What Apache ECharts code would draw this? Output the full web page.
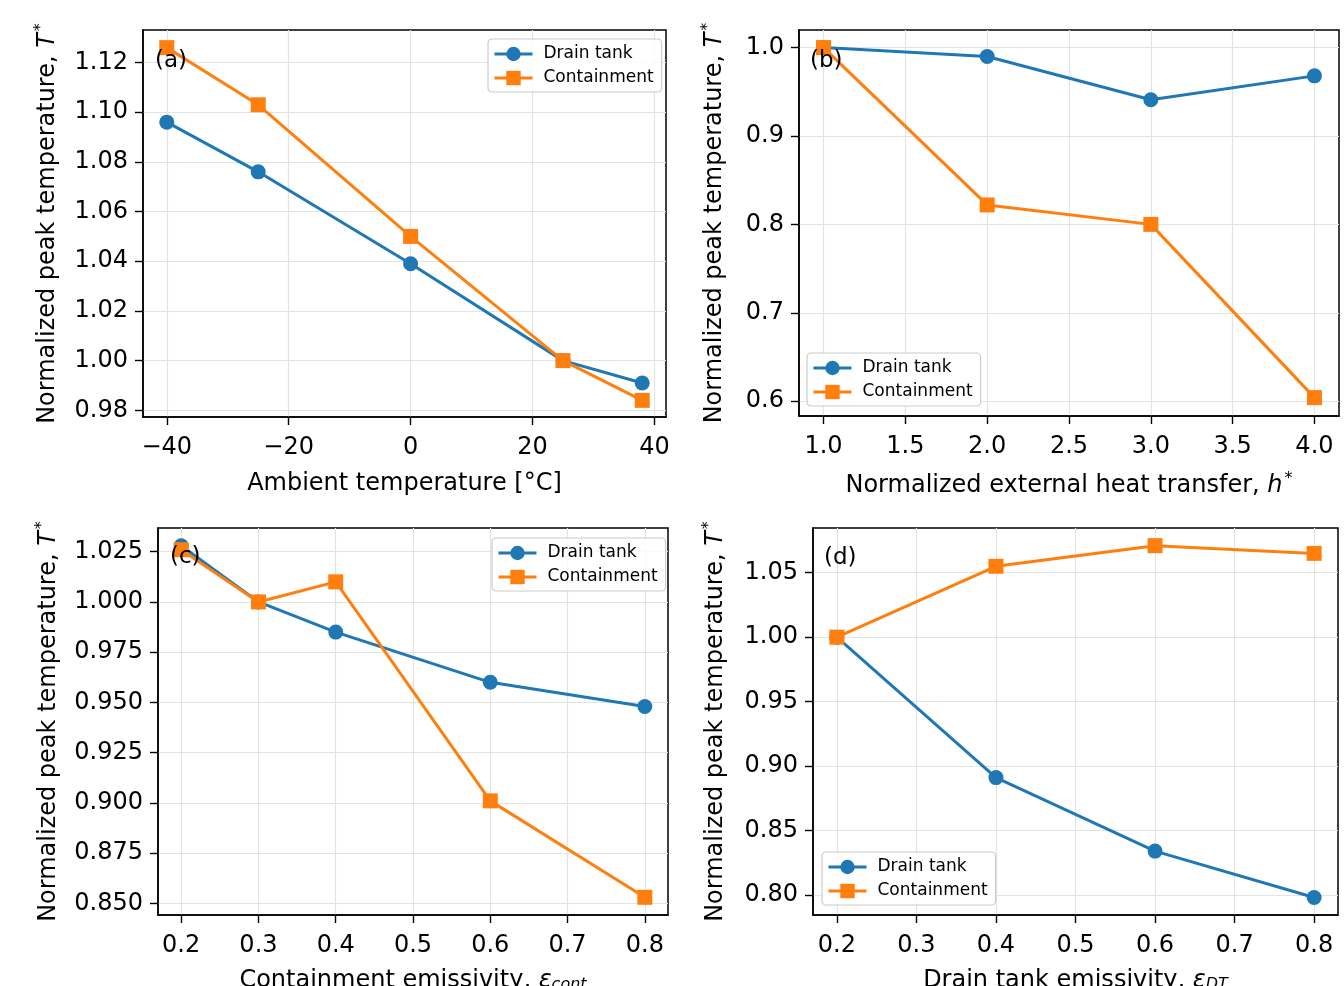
<!DOCTYPE html>
<html>
<head>
<meta charset="utf-8">
<script src="https://cdn.jsdelivr.net/npm/echarts@6/dist/echarts.min.js"></script>
<style>
  html, body { margin: 0; padding: 0; background: #fff; }
  #main { width: 1344px; height: 986px; }
</style>
</head>
<body>
<div id="main"></div>
<script>
// (a) ambient temperature sweep
var ambientTemp = [-40, -25, 0, 25, 38];
var drainA = [1.096, 1.076, 1.039, 1.000, 0.991];
var contA = [1.126, 1.103, 1.050, 1.000, 0.984];
// (b) external heat transfer sweep
var heatTransfer = [1.0, 2.0, 3.0, 4.0];
var drainB = [1.000, 0.990, 0.941, 0.968];
var contB = [1.000, 0.822, 0.800, 0.604];
// (c) containment emissivity sweep
var contEmiss = [0.2, 0.3, 0.4, 0.6, 0.8];
var drainC = [1.028, 1.000, 0.985, 0.960, 0.948];
var contC = [1.026, 1.000, 1.010, 0.901, 0.853];
// (d) drain tank emissivity sweep
var dtEmiss = [0.2, 0.4, 0.6, 0.8];
var drainD = [1.000, 0.891, 0.834, 0.798];
var contD = [1.000, 1.055, 1.071, 1.065];

// tick labels
var xTicksA = [-40, -20, 0, 20, 40];
var yTicksA = [0.98, 1.00, 1.02, 1.04, 1.06, 1.08, 1.10, 1.12];
var xTicksB = [1.0, 1.5, 2.0, 2.5, 3.0, 3.5, 4.0];
var yTicksB = [0.6, 0.7, 0.8, 0.9, 1.0];
var xTicksC = [0.2, 0.3, 0.4, 0.5, 0.6, 0.7, 0.8];
var yTicksC = [0.850, 0.875, 0.900, 0.925, 0.950, 0.975, 1.000, 1.025];
var xTicksD = [0.2, 0.3, 0.4, 0.5, 0.6, 0.7, 0.8];
var yTicksD = [0.80, 0.85, 0.90, 0.95, 1.00, 1.05];

var FONT = 'DejaVu Sans';
var BLUE = '#1f77b4';
var ORANGE = '#ff7f0e';

var chart = echarts.init(document.getElementById('main'));

var rich = {
    i: { fontFamily: FONT, fontSize: 24, fontStyle: 'italic', color: '#000' },
    sup: { fontFamily: FONT, fontSize: 16, color: '#000', padding: [0, 0, 14, 2] },
    sub: { fontFamily: FONT, fontSize: 16, fontStyle: 'italic', color: '#000', padding: [8, 0, 0, 0] }
};

function fmt(digits) {
    return function (v) {
        var s = Math.abs(v).toFixed(digits);
        return v < -1e-9 ? '\u2212' + s : s;
    };
}

function xAxis(idx, min, max, ticks, digits, name, gap) {
    return {
        type: 'value', gridIndex: idx, min: min, max: max,
        name: name, nameLocation: 'middle', nameGap: gap,
        nameTextStyle: { fontFamily: FONT, fontSize: 24, color: '#000', rich: rich },
        axisLine: { show: true, onZero: false, lineStyle: { color: '#000', width: 1.5 } },
        axisTick: { show: true, length: 8, customValues: ticks, lineStyle: { color: '#000', width: 1.4 } },
        axisLabel: { customValues: ticks, formatter: fmt(digits), margin: 19,
            fontFamily: FONT, fontSize: 24, color: '#000' },
        splitLine: { show: true, lineStyle: { color: '#e3e3e3', width: 1.2 } }
    };
}

function yAxis(idx, min, max, ticks, digits, gap) {
    return {
        type: 'value', gridIndex: idx, min: min, max: max,
        name: 'Normalized peak temperature, {i|T}{sup|*}', nameLocation: 'middle', nameGap: gap,
        nameTextStyle: { fontFamily: FONT, fontSize: 24, color: '#000', rich: rich },
        axisLine: { show: true, onZero: false, lineStyle: { color: '#000', width: 1.5 } },
        axisTick: { show: true, length: 8, customValues: ticks, lineStyle: { color: '#000', width: 1.4 } },
        axisLabel: { customValues: ticks, formatter: fmt(digits), margin: 15,
            fontFamily: FONT, fontSize: 24, color: '#000' },
        splitLine: { show: true, lineStyle: { color: '#e3e3e3', width: 1.2 } }
    };
}

function pairs(xs, ys) {
    return xs.map(function (x, i) { return [x, ys[i]]; });
}

function lines(idx, xs, drain, cont) {
    return [
        { name: 'Drain tank', type: 'line', xAxisIndex: idx, yAxisIndex: idx,
          data: pairs(xs, drain), symbol: 'circle', symbolSize: 15,
          lineStyle: { color: BLUE, width: 3 }, itemStyle: { color: BLUE },
          animation: false },
        { name: 'Containment', type: 'line', xAxisIndex: idx, yAxisIndex: idx,
          data: pairs(xs, cont), symbol: 'rect', symbolSize: 15,
          lineStyle: { color: ORANGE, width: 3 }, itemStyle: { color: ORANGE },
          animation: false }
    ];
}

function legend(left, top) {
    return {
        data: ['Drain tank', 'Containment'], orient: 'vertical',
        left: left, top: top, itemWidth: 38, itemHeight: 18, itemGap: 6,
        padding: [6, 8, 5, 5], borderColor: '#cccccc', borderWidth: 1.2, borderRadius: 4,
        backgroundColor: 'rgba(255,255,255,0.8)',
        lineStyle: { width: 3 },
        textStyle: { fontFamily: FONT, fontSize: 17, color: '#000', lineHeight: 18, padding: [0, 0, 0, 6] }
    };
}

function panelLabel(text, x, y) {
    return { type: 'text', x: x, y: y, z: 100,
        style: { text: text, font: '23px "DejaVu Sans"', fill: '#000' } };
}

var gridStyle = { show: true, borderColor: '#000', borderWidth: 1.5,
    backgroundColor: 'transparent', outerBoundsMode: 'none', containLabel: false };

var option = {
    backgroundColor: '#fff',
    animation: false,
    grid: [
        Object.assign({ left: 143, top: 30, width: 523, height: 387 }, gridStyle),
        Object.assign({ left: 799, top: 30, width: 540, height: 386 }, gridStyle),
        Object.assign({ left: 158, top: 528, width: 510, height: 387 }, gridStyle),
        Object.assign({ left: 813, top: 528, width: 525, height: 387 }, gridStyle)
    ],
    xAxis: [
        xAxis(0, -43.9, 41.9, xTicksA, 0, 'Ambient temperature [°C]', 55),
        xAxis(1, 0.85, 4.15, xTicksB, 1, 'Normalized external heat transfer, {i|h}{sup|*}', 55),
        xAxis(2, 0.17, 0.83, xTicksC, 1, 'Containment emissivity, {i|ε}{sub|cont}', 54),
        xAxis(3, 0.17, 0.83, xTicksD, 1, 'Drain tank emissivity, {i|ε}{sub|DT}', 54)
    ],
    yAxis: [
        yAxis(0, 0.9773, 1.1331, yTicksA, 2, 80),
        yAxis(1, 0.5832, 1.0199, yTicksB, 1, 69),
        yAxis(2, 0.8442, 1.0368, yTicksC, 3, 94),
        yAxis(3, 0.7844, 1.0847, yTicksD, 2, 82)
    ],
    legend: [
        legend(488, 39),
        legend(807, 353),
        legend(492, 538),
        legend(822, 852)
    ],
    graphic: [
        panelLabel('(a)', 155, 50),
        panelLabel('(b)', 810, 50),
        panelLabel('(c)', 170, 546),
        panelLabel('(d)', 824, 547)
    ],
    series: [].concat(
        lines(0, ambientTemp, drainA, contA),
        lines(1, heatTransfer, drainB, contB),
        lines(2, contEmiss, drainC, contC),
        lines(3, dtEmiss, drainD, contD)
    )
};

chart.setOption(option);
</script>
</body>
</html>
